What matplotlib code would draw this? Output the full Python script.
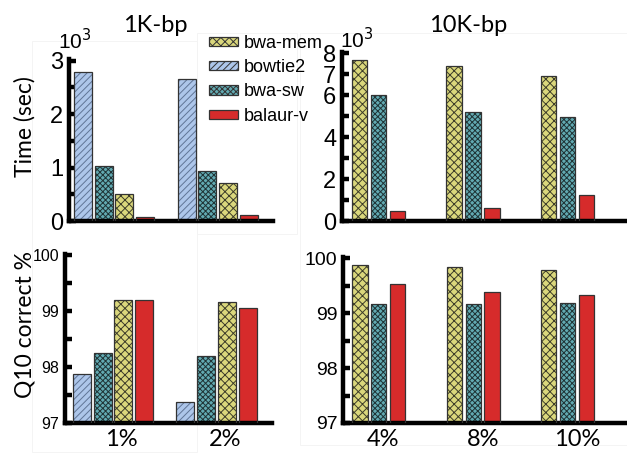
import matplotlib.pyplot as plt
import numpy as np
from matplotlib.ticker import FixedLocator, MultipleLocator
from matplotlib.patches import Patch

plt.rcParams['font.family'] = ['Liberation Sans', 'DejaVu Sans']
plt.rcParams['hatch.linewidth'] = 0.7

# data
tools_small = ['bowtie2', 'bwa-sw', 'bwa-mem', 'balaur-v']
tools_large = ['bwa-mem', 'bwa-sw', 'balaur-v']
err_small = ['1%', '2%']
err_large = ['4%', '8%', '10%']
leg_order = ['bwa-mem', 'bowtie2', 'bwa-sw', 'balaur-v']

# time, x10^3 sec
time_1k = {'bowtie2': [2.78, 2.66], 'bwa-sw': [1.03, 0.94],
           'bwa-mem': [0.51, 0.71], 'balaur-v': [0.07, 0.11]}
time_10k = {'bwa-mem': [7.67, 7.40, 6.92], 'bwa-sw': [6.00, 5.20, 4.97],
            'balaur-v': [0.49, 0.62, 1.24]}
# Q10 correct %
q10_1k = {'bowtie2': [97.87, 97.37], 'bwa-sw': [98.25, 98.19],
          'bwa-mem': [99.20, 99.16], 'balaur-v': [99.20, 99.06]}
q10_10k = {'bwa-mem': [99.87, 99.83, 99.79], 'bwa-sw': [99.16, 99.17, 99.19],
           'balaur-v': [99.52, 99.39, 99.32]}

style = {'bwa-mem': dict(fc='#dad77c', hc='#3d3d2a', hatch='xxxx'),
         'bowtie2': dict(fc='#adc6ea', hc='#5f7596', hatch='/////'),
         'bwa-sw': dict(fc='#62aab2', hc='#1f3335', hatch='xxxxxx'),
         'balaur-v': dict(fc='#d62b2b', hc='#d62b2b', hatch=None)}

W, H = 627, 453
fig = plt.figure(figsize=(W / 100, H / 100), dpi=100)


def px_axes(l, t, r, b):
    return fig.add_axes([l / W, 1 - b / H, (r - l) / W, (b - t) / H])


ax_tl = px_axes(69, 59, 273, 221)
ax_tr = px_axes(342, 52, 627, 221)
ax_bl = px_axes(65, 254, 272, 423)
ax_br = px_axes(343, 257, 627, 423)


def draw(ax, tools, data, width, base):
    for i, t in enumerate(tools):
        vals = np.array(data[t])
        x = np.arange(len(vals)) * 5 + i
        s = style[t]
        # fill + hatch, then a dark outline on top
        ax.bar(x, vals - base, width, bottom=base, color=s['fc'],
               edgecolor=s['hc'], hatch=s['hatch'], linewidth=0, zorder=2)
        ax.bar(x, vals - base, width, bottom=base, fill=False,
               edgecolor='#333333', linewidth=0.9, zorder=3)


draw(ax_tl, tools_small, time_1k, 0.87, 0)
draw(ax_bl, tools_small, q10_1k, 0.87, 97)
draw(ax_tr, tools_large, time_10k, 0.81, 0)
draw(ax_br, tools_large, q10_10k, 0.81, 97)

ax_tl.set_xlim(-0.68, 9.18)
ax_bl.set_xlim(-0.82, 9.18)
ax_tr.set_xlim(-0.93, 14.15)
ax_br.set_xlim(-0.90, 14.15)

ax_tl.set_ylim(0, 3.03)
ax_tl.yaxis.set_major_locator(FixedLocator([0, 1, 2, 3]))
ax_tl.yaxis.set_minor_locator(FixedLocator([0.5, 1.5, 2.5]))
ax_tr.set_ylim(0, 8.05)
ax_tr.yaxis.set_major_locator(FixedLocator([0, 2, 4, 6, 7, 8]))
ax_tr.yaxis.set_minor_locator(FixedLocator([1, 3, 5]))
for ax in (ax_bl, ax_br):
    ax.set_ylim(97, 100.02)
    ax.yaxis.set_major_locator(FixedLocator([97, 98, 99, 100]))
    ax.yaxis.set_minor_locator(MultipleLocator(0.5))

for ax in (ax_tl, ax_tr, ax_bl, ax_br):
    for sp in ('top', 'right'):
        ax.spines[sp].set_visible(False)
    ax.spines['left'].set_linewidth(3.2)
    ax.spines['bottom'].set_linewidth(3.2)
    ax.tick_params(axis='y', which='both', direction='in', length=5,
                   width=3.2, pad=4)
    ax.tick_params(axis='x', length=0)
    ax.set_facecolor('none')

ax_tl.tick_params(axis='y', labelsize=17)
ax_tr.tick_params(axis='y', labelsize=17)
ax_bl.tick_params(axis='y', labelsize=11.5)
ax_br.tick_params(axis='y', labelsize=14)
ax_tl.set_xticks([])
ax_tr.set_xticks([])

ax_bl.set_xticks([1.9, 6.9])
ax_bl.set_xticklabels(err_small, fontsize=17, family='Lato')
ax_br.set_xticks([1.2, 6.5, 11.5])
ax_br.set_xticklabels(err_large, fontsize=17, family='Lato')
ax_bl.tick_params(axis='x', pad=4)
ax_br.tick_params(axis='x', pad=4)

fig.text(25 / W, 1 - 127 / H, 'Time (sec)', rotation=90, ha='center',
         va='center', fontsize=16.5, family='Lato')
fig.text(25 / W, 1 - 325 / H, 'Q10 correct %', rotation=90, ha='center',
         va='center', fontsize=16.5, family='Lato')
fig.text(155 / W, 1 - 26 / H, '1K-bp', ha='center', va='center',
         fontsize=17, family='Lato')
fig.text(468 / W, 1 - 25 / H, '10K-bp', ha='center', va='center',
         fontsize=17, family='Lato')
fig.text(75 / W, 1 - 41 / H, '10$^3$', ha='center', va='center', fontsize=15)
fig.text(357 / W, 1 - 40 / H, '10$^3$', ha='center', va='center', fontsize=15)

leg_handles = [Patch(facecolor=style[t]['fc'], edgecolor='#333333',
                     hatch=style[t]['hatch'], linewidth=0.9) for t in leg_order]
fig.legend(leg_handles, leg_order, loc='upper left',
           bbox_to_anchor=(209 / W, 1 - 35 / H), frameon=False, fontsize=13,
           handlelength=1.6, handleheight=0.4, handletextpad=0.3,
           labelspacing=0.4, borderpad=0, borderaxespad=0)

# very faint frames left over in the source image
for (l, t, r, b) in [(32, 41, 197, 452), (197, 33, 297, 234), (300, 33, 627, 445)]:
    fig.add_artist(plt.Rectangle((l / W, 1 - b / H), (r - l) / W, (b - t) / H,
                                 transform=fig.transFigure, fill=False,
                                 edgecolor='#f3f3f3', linewidth=0.6, zorder=-5))

fig.savefig('out.png', dpi=100)
